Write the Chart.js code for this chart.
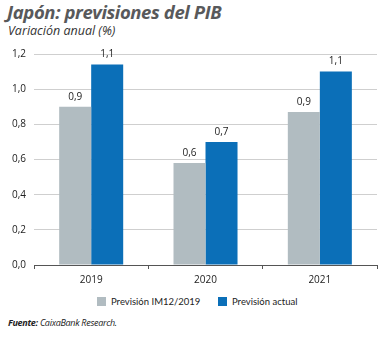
<!DOCTYPE html>
<html>
<head>
<meta charset="utf-8">
<script src="https://cdn.jsdelivr.net/npm/chart.js@4"></script>
<style>
  body { margin: 0; background: #fff; width: 391px; height: 338px; position: relative; overflow: hidden; }
  #title { position: absolute; left: 7px; top: -1px; font: italic bold 18.5px "Open Sans", sans-serif; color: #58595b; letter-spacing: -0.4px; }
  #subtitle { position: absolute; left: 8px; top: 22px; font: italic 12.5px "Open Sans", sans-serif; color: #333; }
  #source { position: absolute; left: 8px; top: 316px; font: italic 9px "Open Sans", sans-serif; color: #222; letter-spacing: -0.3px; }
  #wrap { position: absolute; left: 0; top: 40px; width: 391px; height: 251px; }
  .leg { position: absolute; top: 295px; font: 9.5px Lato, sans-serif; color: #222; white-space: nowrap; line-height: 14px; }
  .leg i { display: inline-block; width: 9px; height: 9px; vertical-align: -1px; margin-right: 5px; }
</style>
</head>
<body>
<div id="title">Japón: previsiones del PIB</div>
<div id="subtitle">Variación anual (%)</div>
<div id="wrap"><canvas id="chart"></canvas></div>
<div id="legend"></div>
<div id="source"><b>Fuente:</b> CaixaBank Research.</div>
<script>
const categories = ["2019", "2020", "2021"];
const previsionIM = [0.90, 0.58, 0.87];
const previsionActual = [1.14, 0.70, 1.10];
const seriesNames = ["Previsión IM12/2019", "Previsión actual"];
const seriesColors = ["#b1bcc1", "#0b6fb8"];
const yTicks = [0, 0.2, 0.4, 0.6, 0.8, 1.0, 1.2];

const fmt = v => v.toFixed(1).replace(".", ",");

// values printed above each bar
const barLabels = {
    id: "barLabels",
    afterDatasetsDraw(chart) {
        const ctx = chart.ctx;
        ctx.save();
        ctx.font = "10px 'Open Sans', sans-serif";
        ctx.fillStyle = "#222";
        ctx.textAlign = "center";
        ctx.textBaseline = "bottom";
        chart.data.datasets.forEach((ds, i) => {
            chart.getDatasetMeta(i).data.forEach((bar, j) => {
                ctx.fillText(fmt(ds.data[j]), bar.x, bar.y - 5);
            });
        });
        ctx.restore();
    }
};

const chart = new Chart(document.getElementById("chart"), {
    type: "bar",
    data: {
        labels: categories,
        datasets: seriesNames.map((name, i) => ({
            label: name,
            data: i === 0 ? previsionIM : previsionActual,
            backgroundColor: seriesColors[i],
        }))
    },
    options: {
        responsive: true,
        maintainAspectRatio: false,
        animation: false,
        layout: { padding: { left: 4, right: 14, top: 13, bottom: 0 } },
        datasets: { bar: { barPercentage: 1, categoryPercentage: 0.56 } },
        plugins: {
            legend: { display: false },
            tooltip: { enabled: false }
        },
        scales: {
            x: {
                ticks: {
                    color: "#222",
                    font: { family: "'Open Sans', sans-serif", size: 10 },
                    padding: 5,
                },
                grid: {
                    drawOnChartArea: false,
                    tickLength: 4,
                    color: "#555",
                },
                border: { color: "#555", width: 1 }
            },
            y: {
                min: 0,
                max: 1.2,
                afterBuildTicks: axis => { axis.ticks = yTicks.map(v => ({ value: v })); },
                ticks: {
                    color: "#222",
                    font: { family: "'Open Sans', sans-serif", size: 10 },
                    padding: 8,
                    callback: v => fmt(v),
                },
                grid: {
                    color: "#cfcfcf",
                    drawTicks: false,
                },
                border: { display: false }
            }
        }
    },
    plugins: [barLabels]
});

// legend, built from the dataset list
const legendLeft = [97, 218];
const legendEl = document.getElementById("legend");
chart.data.datasets.forEach((ds, i) => {
    const d = document.createElement("div");
    d.className = "leg";
    d.style.left = legendLeft[i] + "px";
    d.innerHTML = '<i style="background:' + ds.backgroundColor + '"></i>' + ds.label;
    legendEl.appendChild(d);
});
</script>
</body>
</html>
